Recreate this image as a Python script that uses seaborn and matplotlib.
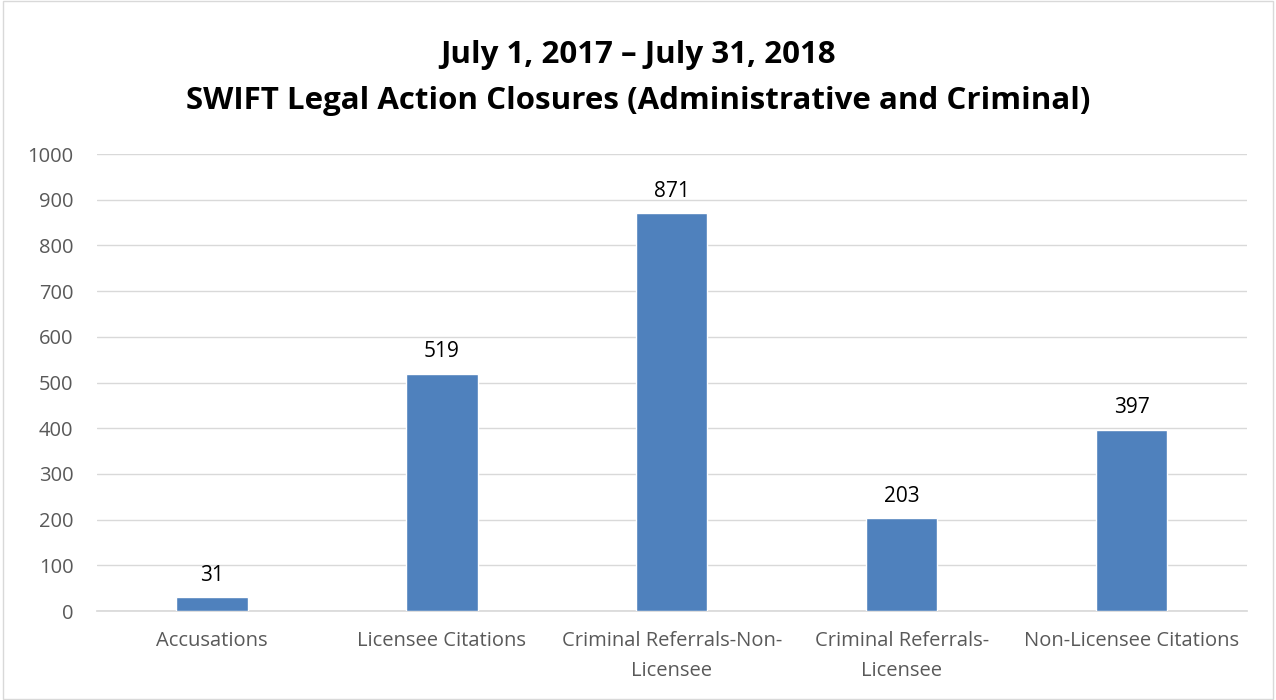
import matplotlib
matplotlib.use("Agg")
import matplotlib.pyplot as plt
import seaborn as sns
import pandas as pd

categories = ["Accusations", "Licensee Citations", "Criminal Referrals-Non-\nLicensee",
              "Criminal Referrals-\nLicensee", "Non-Licensee Citations"]
values = [31, 519, 871, 203, 397]
title_lines = ["July 1, 2017 \u2013 July 31, 2018",
               "SWIFT Legal Action Closures (Administrative and Criminal)"]

sns.set_theme(style="white")
plt.rcParams['font.family'] = ['Open Sans', 'DejaVu Sans']

df = pd.DataFrame({"cat": categories, "val": values})

fig = plt.figure(figsize=(12.76, 7), dpi=100)
ax = fig.add_axes([0.076, 0.127, 0.901, 0.653])
sns.barplot(data=df, x="cat", y="val", color="#4F81BD", width=0.31, ax=ax, saturation=1, zorder=3)

ax.set_ylim(0, 1000)
ax.set_yticks(range(0, 1001, 100))
ax.yaxis.grid(True, color="#D9D9D9", linewidth=1, zorder=0)
ax.set_axisbelow(True)
for s in ["top", "right", "left"]:
    ax.spines[s].set_visible(False)
ax.spines["bottom"].set_color("#D9D9D9")
ax.set_xlabel("")
ax.set_ylabel("")
ax.tick_params(axis="both", length=0, labelsize=14.5, colors="#595959")
ax.tick_params(axis="y", pad=17)
ax.tick_params(axis="x", pad=14)
for lbl in ax.get_xticklabels():
    lbl.set_linespacing(1.7)
ax.set_xlim(-0.5, 4.5)

for i, v in enumerate(values):
    ax.text(i, v + 25, str(v), ha="center", va="bottom", fontsize=15, color="#000000")

fig.text(0.5, 0.922, title_lines[0], ha="center", va="center", fontsize=22.5, fontweight="bold", color="#000000")
fig.text(0.5, 0.855, title_lines[1], ha="center", va="center", fontsize=22.5, fontweight="bold", color="#000000")

border = plt.Rectangle((0.002, 0.002), 0.996, 0.996, transform=fig.transFigure, fill=False,
                       edgecolor="#D9D9D9", linewidth=1)
fig.add_artist(border)

fig.savefig("out.png", dpi=100)
